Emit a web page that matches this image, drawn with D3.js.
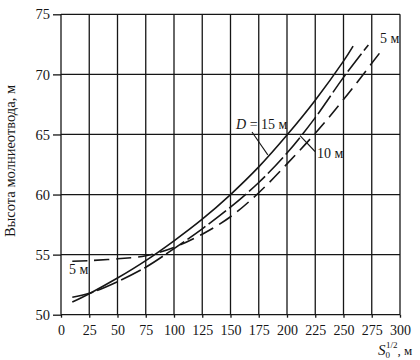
<!DOCTYPE html>
<html><head><meta charset="utf-8">
<script src="https://cdn.jsdelivr.net/npm/d3@7"></script>
<style>
html,body{margin:0;padding:0;background:#fff;}
svg{display:block;}
svg text{font-family:"Liberation Serif","Times New Roman","DejaVu Serif",serif !important;}
</style></head>
<body>
<svg id="chart" width="420" height="360"></svg>
<script>
// ---- data ----
const xTicks = [0,25,50,75,100,125,150,175,200,225,250,275,300];
const yTicks = [50,55,60,65,70,75];

const d15X = [10,25,50,75,100,125,150,175,200,225,250,258.5];
const d15Y = [51.05,51.75,53.05,54.5,56.15,57.95,60.0,62.3,64.95,67.85,71.1,72.35];

const d10X = [10,25,50,75,100,125,150,175,200,225,250,272];
const d10Y = [51.45,51.78,52.75,53.95,55.5,57.15,58.95,61.0,63.45,66.4,69.75,72.45];

const d5X = [10,25,50,75,100,125,150,175,200,225,250,285];
const d5Y = [54.45,54.5,54.65,54.9,55.6,56.7,58.15,60.15,62.55,65.1,67.9,72.15];

const yTitle = "Высота молниеотвода, м";

// ---- drawing ----
const FONT = "Liberation Serif, Times New Roman, DejaVu Serif, serif";
const svg = d3.select("#chart").attr("font-family",FONT);
svg.append("rect").attr("width",420).attr("height",360).attr("fill","#fff");

const x = d3.scaleLinear().domain([0,300]).range([61,400]);
const y = d3.scaleLinear().domain([50,75]).range([314.7,14.3]);
const ink = "#161616";

// grid
const g = svg.append("g").attr("stroke",ink).attr("stroke-width",1.3);
g.selectAll("line.v").data(xTicks).enter().append("line")
  .attr("x1",d=>x(d)).attr("x2",d=>x(d)).attr("y1",y(75)).attr("y2",y(50));
g.selectAll("line.h").data(yTicks).enter().append("line")
  .attr("x1",x(0)).attr("x2",x(300)).attr("y1",d=>y(d)).attr("y2",d=>y(d));

// axes
const ax = svg.append("g").attr("transform",`translate(0,${y(50)})`)
  .call(d3.axisBottom(x).tickValues(xTicks).tickSize(3).tickPadding(7).tickFormat(d3.format("d")));
const ay = svg.append("g").attr("transform",`translate(${x(0)},0)`)
  .call(d3.axisLeft(y).tickValues(yTicks).tickSize(8).tickPadding(3).tickFormat(d3.format("d")));
[ax,ay].forEach(a=>{
  a.attr("font-family",FONT);
  a.select(".domain").remove();
  a.selectAll("line").attr("stroke",ink).attr("stroke-width",1.3);
  a.selectAll("text").attr("fill",ink).style("font-family",FONT);
});
ax.selectAll("text").attr("font-size",14);
ay.selectAll("text").attr("font-size",14.5);

// curves
const line = d3.line().x(d=>x(d[0])).y(d=>y(d[1])).curve(d3.curveCatmullRom.alpha(0.5));
const series = [
  {xs:d15X, ys:d15Y, dash:null},
  {xs:d10X, ys:d10Y, dash:"22,4"},
  {xs:d5X,  ys:d5Y,  dash:"15,7"}
];
series.forEach(s=>{
  svg.append("path").datum(d3.zip(s.xs,s.ys))
    .attr("d",line).attr("fill","none").attr("stroke",ink)
    .attr("stroke-width",1.6).attr("stroke-dasharray",s.dash);
});

// leaders
const lead = svg.append("g").attr("stroke",ink).attr("stroke-width",1.1);
lead.append("line").attr("x1",252).attr("y1",132).attr("x2",x(183)).attr("y2",y(63.3));
lead.append("line").attr("x1",x(211.5)).attr("y1",y(64.9)).attr("x2",315).attr("y2",151.5);

// labels
const lab = svg.append("g").attr("fill",ink).attr("font-size",14);
const t1 = lab.append("text").attr("x",236).attr("y",129);
t1.append("tspan").attr("font-style","italic").text("D");
t1.append("tspan").text(" = 15 м");
lab.append("text").attr("x",317).attr("y",158).text("10 м");
lab.append("text").attr("x",380).attr("y",43).text("5 м");
lab.append("text").attr("x",69).attr("y",274).text("5 м");

// axis titles
svg.append("text").attr("fill",ink).attr("font-size",14.5)
  .attr("text-anchor","middle")
  .attr("transform","translate(15,161) rotate(-90)")
  .text(yTitle);

const xt = svg.append("text").attr("fill",ink).attr("x",378).attr("y",355).attr("font-size",15);
xt.append("tspan").attr("font-style","italic").text("S");
xt.append("tspan").attr("font-size",9).attr("dy",3).text("0");
xt.append("tspan").attr("font-size",9).attr("dx",-4).attr("dy",-10).text("1/2");
xt.append("tspan").attr("font-size",13).attr("dy",7).text(", м");
</script>
</body></html>
